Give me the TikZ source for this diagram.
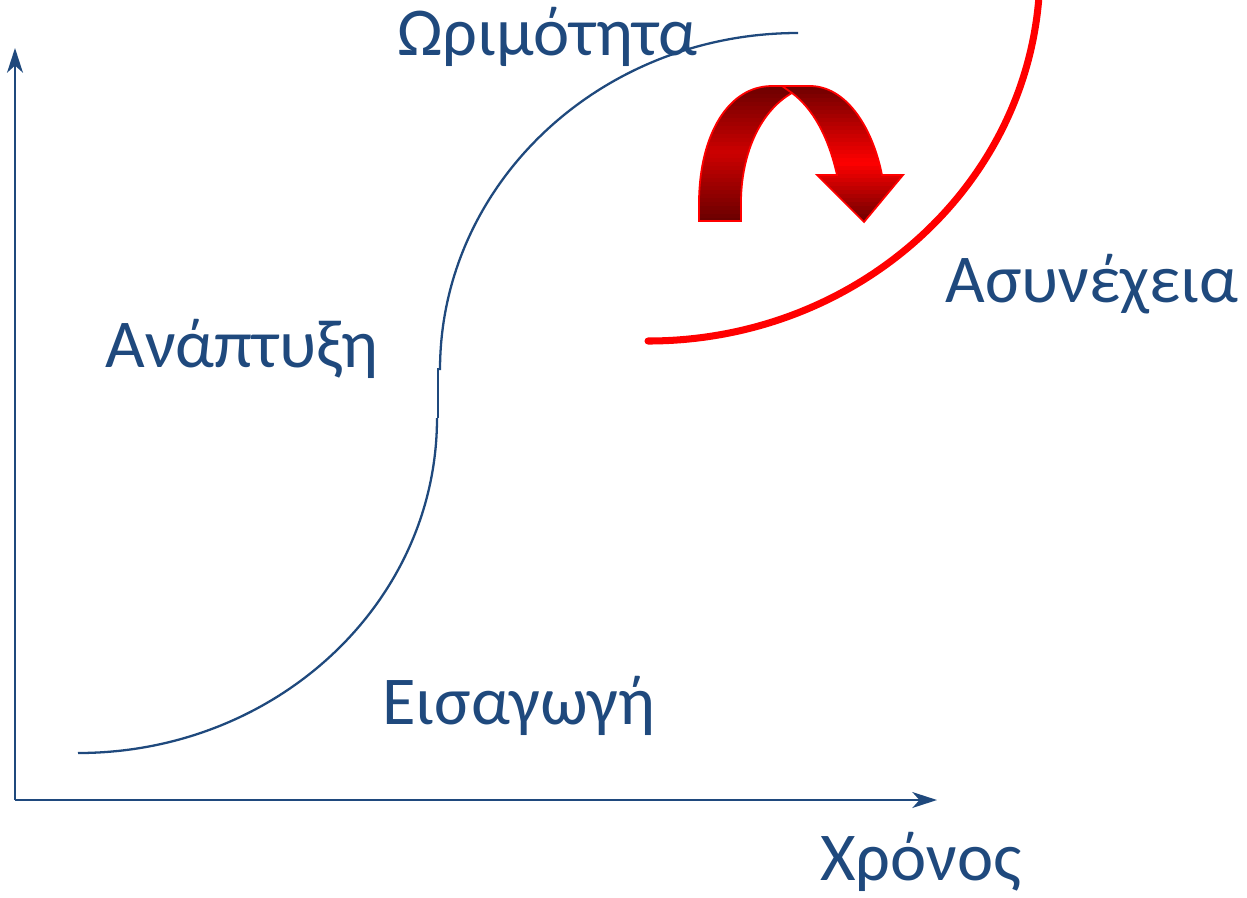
\documentclass[tikz,border=0pt]{standalone}
\usepackage{fontspec}
\setmainfont{Carlito}
\usetikzlibrary{arrows.meta}
\definecolor{curveblue}{RGB}{31,73,125}
\definecolor{jumpred}{RGB}{255,0,0}
\definecolor{darkred}{RGB}{100,0,0}
\definecolor{midred}{RGB}{205,0,0}

\begin{document}
\begin{tikzpicture}[
  x=0.02cm, y=-0.02cm,
  axis/.style={draw=curveblue, line width=1.4pt, -{Stealth[length=14pt,width=9pt,inset=4pt]}},
  scurve/.style={draw=curveblue, line width=1.3pt},
  jump/.style={draw=jumpred, line width=4pt, line cap=round},
  band/.style={draw=jumpred, line width=1pt},
  phase/.style={text=curveblue, font=\fontsize{39}{47}\selectfont, inner sep=0pt, anchor=base west}
]
\useasboundingbox (0,0) rectangle (1247,897);

\coordinate (origin) at (15,800);
\coordinate (yend) at (15,48);
\coordinate (xend) at (937,800);
\draw[axis] (origin) -- (yend);
\draw[axis] (origin) -- (xend);

\draw[scurve] (78,753) arc[start angle=90, end angle=0, x radius=359, y radius=335];
\draw[scurve] (438,368) -- (438,418);
\draw[scurve] (440,370) arc[start angle=180, end angle=270, x radius=358, y radius=337];

\draw[jump] (648,341) arc[start angle=90, end angle=4.6, x radius=392, y radius=371];

\begin{scope}
\clip (699,221) -- (699,200) .. controls (700,135) and (728,86) .. (772,86) -- (792,86) -- (792,93)
  .. controls (762,110) and (742,150) .. (741,200) -- (741,221) -- cycle;
\foreach \y in {82,86,...,226} {
  \pgfmathtruncatemacro\p{max(0,100*(1-abs(\y+2-153)/72))}
  \fill[midred!\p!darkred] (690,\y) rectangle (800,\y+5);
}
\end{scope}
\draw[band] (699,221) -- (699,200) .. controls (700,135) and (728,86) .. (772,86) -- (792,86) -- (792,93)
  .. controls (762,110) and (742,150) .. (741,200) -- (741,221) -- cycle;

\begin{scope}
\clip (782,86) -- (810,86) .. controls (845,86) and (872,125) .. (882,175) -- (903,175) -- (864,222)
  -- (817,175) -- (837,175) .. controls (828,135) and (812,108) .. (792,93) -- cycle;
\foreach \y in {82,86,...,226} {
  \pgfmathtruncatemacro\p{max(0,100*(1-abs(\y+2-163)/(\y<163 ? 82 : 62)))}
  \fill[jumpred!\p!darkred] (775,\y) rectangle (910,\y+5);
}
\end{scope}
\draw[band] (782,86) -- (810,86) .. controls (845,86) and (872,125) .. (882,175) -- (903,175) -- (864,222)
  -- (817,175) -- (837,175) .. controls (828,135) and (812,108) .. (792,93) -- cycle;

\node[phase] (maturity) at (397,55) {Ωριμότητα};
\node[phase] (growth) at (105,367) {Ανάπτυξη};
\node[phase] (intro) at (382,724) {Εισαγωγή};
\node[phase] (discont) at (945,302) {Ασυνέχεια};
\node[phase] (time) at (820,880) {Χρόνος};
\end{tikzpicture}
\end{document}
